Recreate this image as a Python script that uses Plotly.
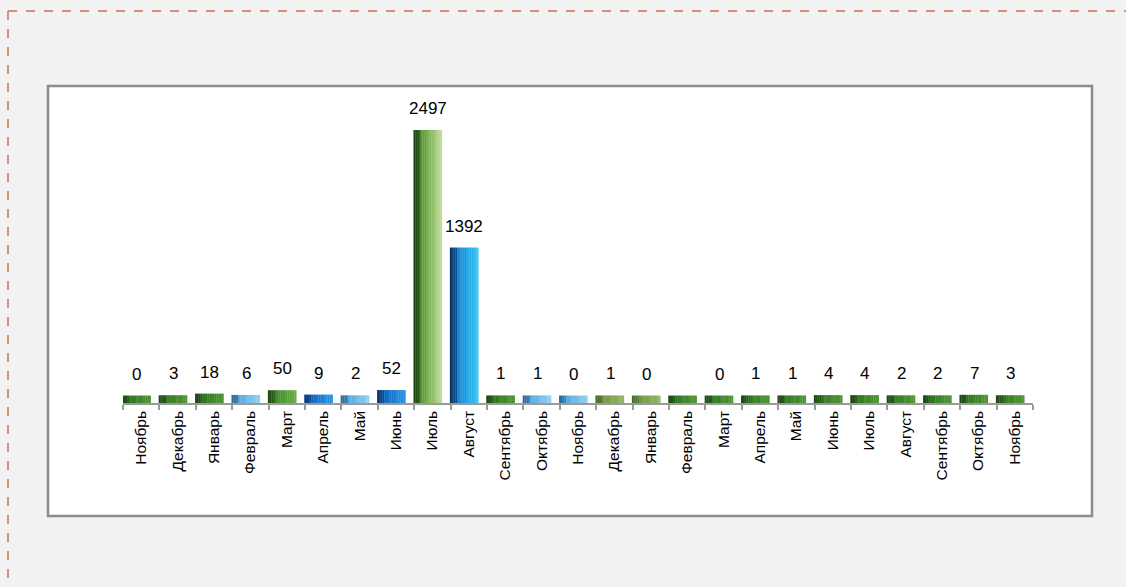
import plotly.graph_objects as go

# ---- data ----
months = ["Ноябрь", "Декабрь", "Январь", "Февраль", "Март", "Апрель", "Май", "Июнь",
          "Июль", "Август", "Сентябрь", "Октябрь", "Ноябрь", "Декабрь", "Январь",
          "Февраль", "Март", "Апрель", "Май", "Июнь", "Июль", "Август", "Сентябрь",
          "Октябрь", "Ноябрь"]
values = [0, 3, 18, 6, 50, 9, 2, 52, 2497, 1392, 1, 1, 0, 1, 0, None, 0, 1, 1, 4, 4, 2, 2, 7, 3]

# ---- style ----
color_keys = ["g", "g", "g", "lb", "g2", "b", "lb", "b", "jul", "aug", "g", "lb", "lb", "o", "o",
              "g", "g", "g", "g", "g", "g", "g", "g", "g", "g"]
palettes = {  # side colour, front-left, front-right
    "g":   ("#1d4712", "#2f7420", "#4e9636"),
    "g2":  ("#1d4712", "#3d8a28", "#6aae45"),
    "jul": ("#1c4410", "#5a9834", "#bcdc96"),
    "o":   ("#4a6a2a", "#6f9444", "#94b466"),
    "lb":  ("#2a6a9a", "#56aadc", "#90d0f0"),
    "b":   ("#0a3a7a", "#1266c0", "#2a98e6"),
    "aug": ("#06335f", "#1684d6", "#34c6f4"),
}


def hex2rgb(h):
    h = h.lstrip("#")
    return tuple(int(h[i:i + 2], 16) for i in (0, 2, 4))


def mix(a, b, t):
    ra, rb = hex2rgb(a), hex2rgb(b)
    return "rgb(%d,%d,%d)" % tuple(round(ra[i] + (rb[i] - ra[i]) * t) for i in range(3))


N_SLICES = 16
SIDE_SLICES = 4
BAR_LEFT = -0.52
BAR_W = 0.78
BASE = -70

x_idx = list(range(len(months)))
y_draw = [0 if v is None else v for v in values]

fig = go.Figure()
for k in range(N_SLICES):
    cols = []
    for key in color_keys:
        side, fl, fr = palettes[key]
        if k < SIDE_SLICES:
            cols.append(mix(side, fl, k / SIDE_SLICES * 0.5))
        else:
            cols.append(mix(fl, fr, (k - SIDE_SLICES) / (N_SLICES - SIDE_SLICES - 1)))
    fig.add_trace(go.Bar(
        x=x_idx, y=[v - BASE for v in y_draw], base=BASE,
        offset=BAR_LEFT + k * BAR_W / N_SLICES, width=BAR_W / N_SLICES * 1.15,
        marker=dict(color=cols, line=dict(width=0)),
        showlegend=False, hoverinfo="skip",
    ))

annotations = []
for i, v in enumerate(values):
    if v is None:
        continue
    annotations.append(dict(
        x=i - 0.12, y=v, xref="x", yref="y", text=str(v), showarrow=False,
        yanchor="bottom", yshift=10, font=dict(family="Liberation Sans, Arial", size=17, color="#000"),
    ))

# pixel -> paper helpers (plot area: x 123..1033, y 95..403)
L, R, T, B = 123, 1033, 95, 403
px = lambda p: (p - L) / (R - L)
py = lambda p: (B - p) / (B - T)

dash_line = dict(color="#d4907a", width=2, dash="dash")
shapes = [
    dict(type="line", xref="paper", yref="paper", x0=px(8), x1=px(1126), y0=py(11), y1=py(11),
         line=dash_line, layer="below"),
    dict(type="line", xref="paper", yref="paper", x0=px(8), x1=px(8), y0=py(11), y1=py(587),
         line=dash_line, layer="below"),
    dict(type="rect", xref="paper", yref="paper", x0=px(48), x1=px(1092), y0=py(86), y1=py(516),
         line=dict(color="#8c8c8c", width=2.5), fillcolor="#ffffff", layer="below"),
]

fig.update_layout(
    width=1126, height=587,
    margin=dict(l=L, r=1126 - R, t=T, b=587 - B),
    paper_bgcolor="#f2f2f2", plot_bgcolor="rgba(0,0,0,0)",
    barmode="overlay",
    shapes=shapes, annotations=annotations,
    font=dict(family="Liberation Sans, Arial", color="#000"),
    xaxis=dict(
        range=[-0.5, len(months) - 0.5], tickmode="array", tickvals=x_idx, ticktext=months,
        tickangle=-90, tickfont=dict(size=15.5, color="#000"), ticks="",
        showline=True, linecolor="#9a9a9a", linewidth=1.5, showgrid=False, zeroline=False,
        minor=dict(tick0=-0.5, dtick=1, ticks="outside", ticklen=5, tickcolor="#9a9a9a", tickwidth=1.5),
        fixedrange=True,
    ),
    yaxis=dict(range=[BASE, 2827], visible=False, showgrid=False, zeroline=False, fixedrange=True),
)

fig.write_html("out.html", config={"displayModeBar": False},
               post_script="document.body.style.margin='0';document.body.style.overflow='hidden';")
